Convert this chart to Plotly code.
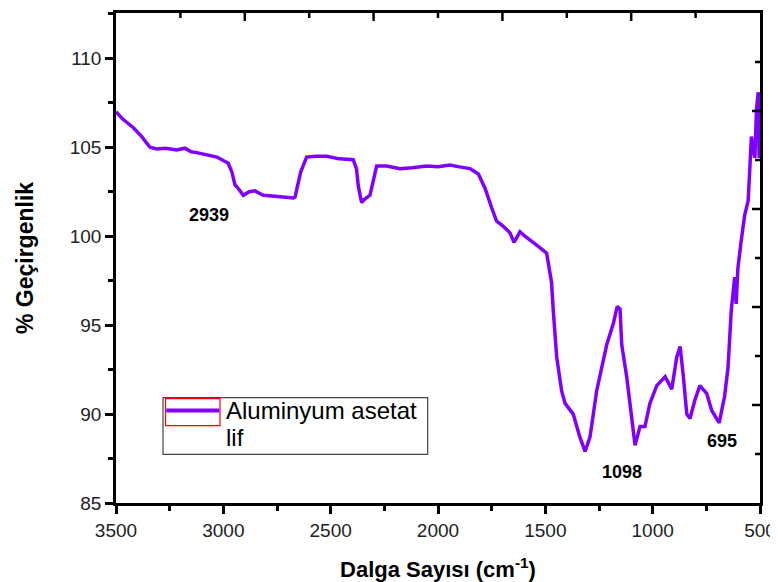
import plotly.graph_objects as go

# ---- data ----
wavenumber = [3500, 3470, 3419, 3380, 3342, 3310, 3270, 3217, 3179, 3150, 3124, 3090, 3062, 3030,
              2992, 2977, 2960, 2946, 2925, 2907, 2880, 2853, 2830, 2814, 2760, 2700, 2674, 2666,
              2640, 2612, 2570, 2518, 2460, 2395, 2380, 2371, 2356, 2340, 2317, 2300, 2286, 2239,
              2177, 2120, 2053, 2000, 1944, 1900, 1851, 1812, 1781, 1750, 1727, 1700, 1665, 1646,
              1618, 1595, 1572, 1530, 1494, 1486, 1480, 1471, 1463, 1447, 1424, 1408, 1370, 1339,
              1315, 1292, 1261, 1214, 1183, 1165, 1152, 1144, 1121, 1106, 1082, 1059, 1036, 1013,
              981, 942, 911, 888, 872, 857, 841, 826, 803, 780, 748, 725, 690, 665, 649, 634, 618,
              611, 603, 588, 571, 555, 547, 540, 532, 524, 516, 508, 504, 500]
transmittance = [107.0, 106.6, 106.1, 105.6, 105.0, 104.9, 104.95, 104.85, 104.95, 104.75, 104.7, 104.6,
                 104.5, 104.45, 104.2, 104.1, 103.6, 102.9, 102.6, 102.3, 102.5, 102.55, 102.4, 102.3,
                 102.25, 102.15, 102.15, 102.2, 103.6, 104.45, 104.5, 104.5, 104.35, 104.3, 103.8,
                 102.8, 101.9, 102.1, 102.3, 103.2, 103.95, 103.95, 103.8, 103.85, 103.95, 103.9,
                 104.0, 103.9, 103.8, 103.5, 102.7, 101.6, 100.85, 100.6, 100.2, 99.65, 100.25, 100.0,
                 99.8, 99.4, 99.05, 98.4, 98.0, 97.4, 95.8, 93.2, 91.3, 90.6, 90.0, 88.7, 87.9, 88.7,
                 91.3, 93.9, 95.1, 96.05, 95.9, 93.9, 92.1, 90.6, 88.25, 89.3, 89.3, 90.6, 91.6, 92.1,
                 91.4, 93.2, 93.8, 92.1, 90.0, 89.75, 90.8, 91.6, 91.15, 90.2, 89.5, 91.0, 92.6, 95.8,
                 97.7, 96.2, 98.2, 99.7, 101.2, 102.0, 104.3, 105.6, 104.9, 104.4, 107.2, 108.1,
                 104.4, 108.1]

legend_lines = ["Aluminyum asetat", "lif"]
peak_labels = ["2939", "1098", "695"]
peak_label_x = [3067, 1143, 677]
peak_label_y = [101.2, 86.75, 88.5]

x_range = [3500, 500]
y_range = [85, 112.55]
x_ticks = [3500, 3000, 2500, 2000, 1500, 1000, 500]
y_ticks = [85, 90, 95, 100, 105, 110]
frame_divisions = 10   # top/right frame: ticks every tenth, longer on even ones

PURPLE = "#8000FF"
FONT = "Liberation Sans, Arial, sans-serif"
PLOT_W, PLOT_H = 644, 493

fig = go.Figure()
fig.add_trace(go.Scatter(x=wavenumber, y=transmittance, mode="lines",
                         line=dict(color=PURPLE, width=3.5), name=legend_lines[0],
                         showlegend=False))

for t, px_, py_ in zip(peak_labels, peak_label_x, peak_label_y):
    fig.add_annotation(x=px_, y=py_, text=f"<b>{t}</b>", showarrow=False,
                       font=dict(family=FONT, size=18, color="black"))

# decorative inward ticks on the top and right frame
for k in range(1, frame_divisions):
    f = k / frame_divisions
    ln = 8 if k % 2 == 0 else 5
    fig.add_shape(type="line", xref="paper", yref="paper", x0=f, x1=f, y0=1, y1=1 - ln / PLOT_H,
                  line=dict(color="black", width=2.5))
    fig.add_shape(type="line", xref="paper", yref="paper", y0=f, y1=f, x0=1, x1=1 - ln / PLOT_W,
                  line=dict(color="black", width=2.5))

# manual legend
fig.add_shape(type="rect", xref="paper", yref="paper", x0=0.073, x1=0.484, y0=0.0994, y1=0.215,
              line=dict(color="#444", width=1.2), fillcolor="white")
fig.add_shape(type="rect", xref="paper", yref="paper", x0=0.077, x1=0.1615, y0=0.158, y1=0.213,
              line=dict(color="red", width=1.2))
fig.add_shape(type="line", xref="paper", yref="paper", x0=0.078, x1=0.1605, y0=0.1886, y1=0.1886,
              line=dict(color=PURPLE, width=4))
fig.add_annotation(xref="paper", yref="paper", x=0.168, y=0.1886, xanchor="left", yanchor="middle",
                   text=legend_lines[0], showarrow=False,
                   font=dict(family=FONT, size=24, color="black"))
fig.add_annotation(xref="paper", yref="paper", x=0.168, y=0.134, xanchor="left", yanchor="middle",
                   text=legend_lines[1], showarrow=False,
                   font=dict(family=FONT, size=24, color="black"))

fig.update_layout(
    width=778, height=582,
    margin=dict(l=108, r=26, t=2, b=87),
    paper_bgcolor="white", plot_bgcolor="white",
    font=dict(family=FONT, color="#222"),
    xaxis=dict(range=x_range, tickvals=x_ticks, ticks="outside", ticklen=8, tickwidth=2.5,
               tickcolor="black", showline=True, linewidth=2.5, linecolor="black", mirror=True,
               showgrid=False, zeroline=False, tickfont=dict(size=19, color="#222"),
               minor=dict(dtick=250, tick0=500, ticks="outside", ticklen=5, tickwidth=2.5,
                          tickcolor="black", showgrid=False),
               title=dict(text="<b>Dalga Sayısı (cm<sup>-1</sup>)</b>", standoff=23,
                          font=dict(family=FONT, size=22, color="black"))),
    yaxis=dict(range=y_range, tickvals=y_ticks, ticks="outside", ticklen=8, tickwidth=2.5,
               tickcolor="black", showline=True, linewidth=2.5, linecolor="black", mirror=True,
               showgrid=False, zeroline=False, tickfont=dict(size=19, color="#222"),
               minor=dict(dtick=2.5, tick0=85, ticks="outside", ticklen=5, tickwidth=2.5,
                          tickcolor="black", showgrid=False),
               title=dict(text="<b>% Geçirgenlik</b>", standoff=30,
                          font=dict(family=FONT, size=23, color="black"))),
)

fig.write_html("out.html")
